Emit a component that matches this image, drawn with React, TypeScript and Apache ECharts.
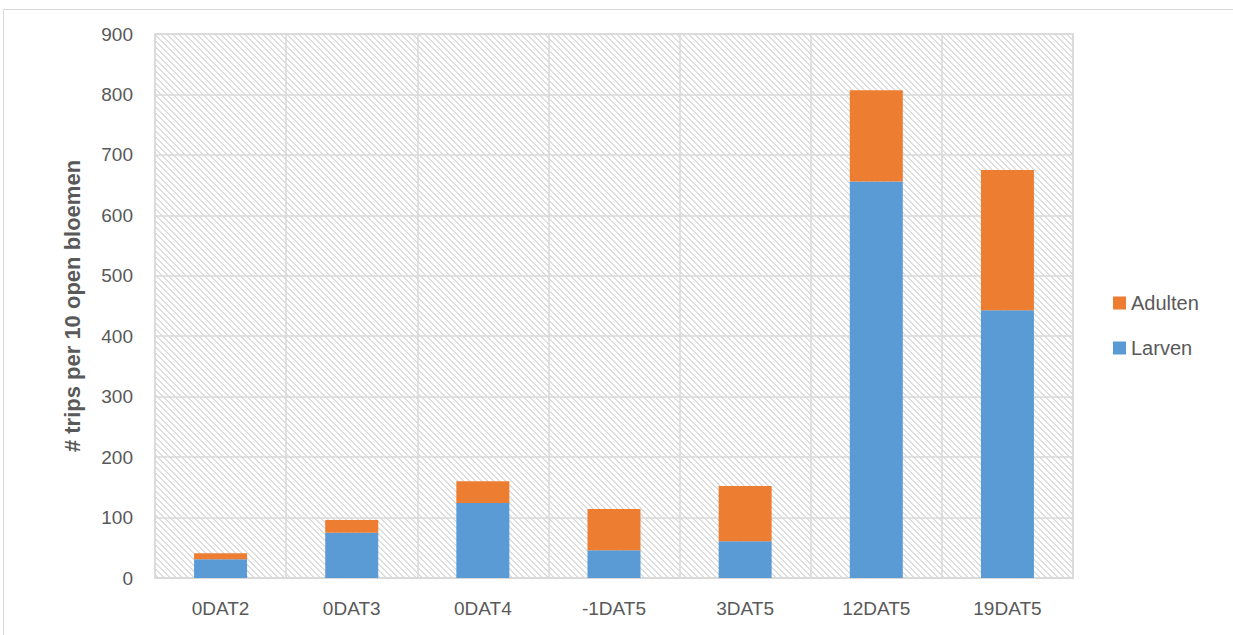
import React, { useEffect, useRef } from "react";
import * as echarts from "echarts";

const categories = ["0DAT2", "0DAT3", "0DAT4", "-1DAT5", "3DAT5", "12DAT5", "19DAT5"];
const larven = [31, 75, 124, 46, 61, 656, 443];
const adulten = [10, 21, 36, 68, 91, 151, 232];
const yTicks = { min: 0, max: 900, interval: 100 };

const FONT = "'Liberation Sans', Arial, sans-serif";
const TEXT = "#595959";
const GRID = "#d9d9d9";

function makeHatch() {
  const size = 6;
  const c = document.createElement("canvas");
  c.width = size;
  c.height = size;
  const ctx = c.getContext("2d")!;
  ctx.fillStyle = "#ffffff";
  ctx.fillRect(0, 0, size, size);
  ctx.fillStyle = "#dedede";
  for (let y = 0; y < size; y++) {
    for (let x = 0; x < size; x++) {
      if (((x - y) % size + size) % size < 2) ctx.fillRect(x, y, 1, 1);
    }
  }
  return { image: c, repeat: "repeat", imageWidth: size, imageHeight: size } as any;
}

export default function App() {
  const ref = useRef<HTMLDivElement>(null);
  useEffect(() => {
    document.body.style.margin = "0";
    const chart = echarts.init(ref.current!, null, { renderer: "svg" });
    chart.setOption({
      animation: false,
      backgroundColor: "#ffffff",
      textStyle: { fontFamily: FONT },
      graphic: [
        {
          type: "rect",
          shape: { x: 3.5, y: 9.5, width: 1300, height: 700 },
          style: { fill: "none", stroke: GRID, lineWidth: 1 },
          silent: true,
        },
      ],
      grid: {
        left: 155,
        right: 160,
        top: 34,
        bottom: 57,
        show: true,
        backgroundColor: makeHatch(),
        borderColor: GRID,
        borderWidth: 1.5,
      },
      legend: {
        orient: "vertical",
        left: 1108,
        top: 288,
        itemWidth: 13,
        itemHeight: 13,
        itemGap: 25,
        icon: "rect",
        data: ["Adulten", "Larven"],
        textStyle: { fontSize: 20, color: TEXT, fontFamily: FONT },
      },
      xAxis: {
        type: "category",
        data: categories,
        axisLine: { show: true, lineStyle: { color: GRID, width: 1.5 } },
        axisTick: { show: false },
        splitLine: { show: true, lineStyle: { color: GRID, width: 1.5 } },
        axisLabel: { fontSize: 19, color: TEXT, margin: 21, fontFamily: FONT },
      },
      yAxis: {
        type: "value",
        min: yTicks.min,
        max: yTicks.max,
        interval: yTicks.interval,
        name: "# trips per 10 open bloemen",
        nameLocation: "middle",
        nameGap: 72,
        nameTextStyle: { fontSize: 22, fontWeight: "bold", color: TEXT, fontFamily: FONT },
        axisLine: { show: false },
        axisTick: { show: false },
        splitLine: { show: true, lineStyle: { color: GRID, width: 1.5 } },
        axisLabel: { fontSize: 19, color: TEXT, margin: 22, fontFamily: FONT },
      },
      series: [
        {
          name: "Larven",
          type: "bar",
          stack: "total",
          data: larven,
          barWidth: 53,
          itemStyle: { color: "#5b9bd5" },
        },
        {
          name: "Adulten",
          type: "bar",
          stack: "total",
          data: adulten,
          barWidth: 53,
          itemStyle: { color: "#ed7d31" },
        },
      ],
    });
    return () => chart.dispose();
  }, []);
  return <div ref={ref} style={{ width: 1233, height: 635 }} />;
}
